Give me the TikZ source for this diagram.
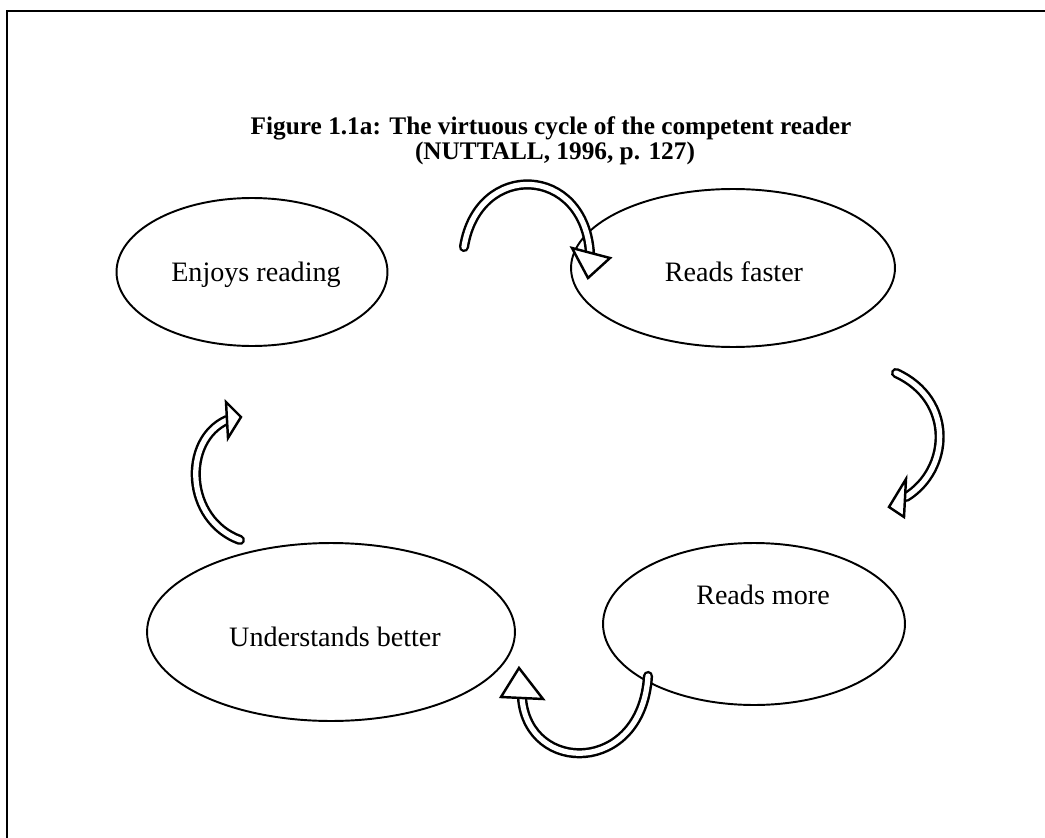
\documentclass[tikz,border=0pt]{standalone}
\usepackage{fontspec}
\setmainfont{Liberation Serif}
\usetikzlibrary{shapes.geometric}
\tikzset{
    stage/.style={ellipse, draw, line width=1.1pt, inner sep=0pt}, % ellipse of one stage
    stagetext/.style={font=\fontsize{16}{19}\selectfont}, % text inside an ellipse
    shaft/.style={line width=1.4pt, double=white, double distance=3pt, line cap=round}, % hollow curved shaft
    head/.style={draw, fill=white, line width=1.4pt, line join=miter} % hollow arrow head
}
\newcommand{\openhead}[3]{\draw[head] (#2) -- (#1) -- (#3) -- cycle;}

\begin{document}
\begin{tikzpicture}[x=0.02cm, y=-0.02cm]
    \useasboundingbox (0,0) rectangle (1045,838);
    \draw[line width=1.2pt] (7,838) -- (7,11) -- (1045,11);

    \node[font=\bfseries\fontsize{14.4}{17}\selectfont] (title) at (551,128) {Figure 1.1a: The virtuous cycle of the competent reader};
    \node[font=\bfseries\fontsize{14.4}{17}\selectfont] (source) at (555,153) {(NUTTALL, 1996, p. 127)};

    \node[stage, minimum width=5.42cm, minimum height=2.96cm] (enjoy) at (252,272) {};
    \node[stage, minimum width=6.48cm, minimum height=3.16cm] (faster) at (733,268) {};
    \node[stage, minimum width=6.04cm, minimum height=3.24cm] (more) at (754,624) {};
    \node[stage, minimum width=7.36cm, minimum height=3.56cm] (understand) at (331,632) {};

    \node[stagetext] (enjoytext) at (256,275) {Enjoys reading};
    \node[stagetext] (fastertext) at (734,272) {Reads faster};
    \node[stagetext] (moretext) at (763,595) {Reads more};
    \node[stagetext] (understandtext) at (335,637) {Understands better};

    % enjoy -> faster
    \coordinate (s1) at (464,247); \coordinate (e1) at (590,254);
    \coordinate (t1) at (588,278); \coordinate (l1) at (572,248); \coordinate (r1) at (610,258);
    \draw[shaft] (s1) .. controls (478,160) and (585,165) .. (e1);
    \openhead{t1}{l1}{r1}
    % faster -> more
    \coordinate (s2) at (896,373); \coordinate (e2) at (906,497);
    \coordinate (t2) at (889,507); \coordinate (l2) at (906,479); \coordinate (r2) at (904,517);
    \draw[shaft] (s2) .. controls (955,400) and (950,470) .. (e2);
    \openhead{t2}{l2}{r2}
    % more -> understand
    \coordinate (s3) at (648,676); \coordinate (e3) at (522,698);
    \coordinate (t3) at (519,668); \coordinate (l3) at (501,697); \coordinate (r3) at (543,699);
    \draw[shaft] (s3) .. controls (642,775) and (528,775) .. (e3);
    \openhead{t3}{l3}{r3}
    % understand -> enjoy
    \coordinate (s4) at (240,540); \coordinate (e4) at (227,420);
    \coordinate (t4) at (241,417); \coordinate (l4) at (226,402); \coordinate (r4) at (228,438);
    \draw[shaft] (s4) .. controls (185,520) and (182,440) .. (e4);
    \openhead{t4}{l4}{r4}
\end{tikzpicture}
\end{document}
